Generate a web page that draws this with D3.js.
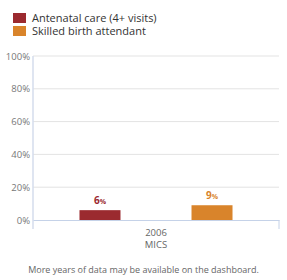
<!DOCTYPE html>
<html>
<head>
<meta charset="utf-8">
<script src="https://cdn.jsdelivr.net/npm/d3@7"></script>
<style>
  body { margin: 0; background: #fff; }
  svg { display: block; font-family: "Open Sans", sans-serif; }
</style>
</head>
<body>
<svg></svg>
<script>
const series = ["Antenatal care (4+ visits)", "Skilled birth attendant"]
const colors = ["#9b2a2f", "#d9842b"]
const categories = ["2006|MICS"]
const values = [[6, 9]]
const yTicks = [0, 20, 40, 60, 80, 100]
const footer = "More years of data may be available on the dashboard."

let width = 287
let height = 280
let plotLeft = 33
let plotRight = 279
let plotTop = 56
let plotBottom = 220

let svg = d3.select("svg").attr("width", width).attr("height", height)

// legend
let legend = svg.append("g")
series.forEach((s, i) => {
    legend.append("rect")
        .attr("x", 13).attr("y", 13 + i * 13)
        .attr("width", 13).attr("height", 10)
        .attr("fill", colors[i])
    legend.append("text")
        .attr("x", 32).attr("y", 22 + i * 13)
        .attr("font-size", 11).attr("fill", "#333")
        .text(s)
})

let yScale = d3.scaleLinear().domain([0, 100]).range([plotBottom, plotTop])
let xScale = d3.scaleBand().domain(categories).range([plotLeft, plotRight])
let inner = d3.scaleBand().domain(series).range([0, xScale.bandwidth()])
    .paddingInner(0.634).paddingOuter(0.415)

// grid
svg.append("g")
    .selectAll("line")
    .data(yTicks.filter(d => d > 0))
    .enter()
    .append("line")
    .attr("x1", plotLeft).attr("x2", plotRight)
    .attr("y1", d => yScale(d)).attr("y2", d => yScale(d))
    .attr("stroke", "#e3e3e3")

// y axis
let yAxis = d3.axisLeft(yScale).tickValues(yTicks).tickFormat(d => d + "%").tickSize(0).tickPadding(3)
let gy = svg.append("g").attr("transform", "translate(" + plotLeft + ",0)").call(yAxis)
gy.select(".domain").remove()
gy.selectAll("text").attr("font-size", 9.5).attr("fill", "#777").attr("font-family", "Open Sans")
svg.append("line").attr("x1", plotLeft).attr("x2", plotLeft).attr("y1", plotTop).attr("y2", plotBottom + 9)
    .attr("stroke", "#d5dcec").attr("stroke-width", 1.5)

// x axis
let xAxis = d3.axisBottom(xScale).tickSize(0).tickFormat("")
let gx = svg.append("g").attr("transform", "translate(0," + plotBottom + ")").call(xAxis)
gx.select(".domain").attr("stroke", "#c5d2e8")
svg.append("line").attr("x1", plotRight).attr("x2", plotRight).attr("y1", plotBottom).attr("y2", plotBottom + 9)
    .attr("stroke", "#c5d2e8")

let catLabels = svg.append("g")
categories.forEach(c => {
    let t = catLabels.append("text")
        .attr("x", xScale(c) + xScale.bandwidth() / 2)
        .attr("y", plotBottom + 16)
        .attr("text-anchor", "middle")
        .attr("font-size", 9.5).attr("fill", "#666")
    c.split("|").forEach((line, j) => {
        t.append("tspan").attr("x", xScale(c) + xScale.bandwidth() / 2).attr("dy", j ? 12 : 0).text(line)
    })
})

// bars
categories.forEach((c, ci) => {
    let g = svg.append("g").attr("transform", "translate(" + xScale(c) + ",0)")
    g.selectAll("rect")
        .data(values[ci])
        .enter()
        .append("rect")
        .attr("x", (d, i) => inner(series[i]))
        .attr("y", d => yScale(d))
        .attr("width", inner.bandwidth())
        .attr("height", d => plotBottom - yScale(d))
        .attr("fill", (d, i) => colors[i])
    let lbl = g.selectAll("text")
        .data(values[ci])
        .enter()
        .append("text")
        .attr("x", (d, i) => inner(series[i]) + inner.bandwidth() / 2)
        .attr("y", d => yScale(d) - 6)
        .attr("text-anchor", "middle")
        .attr("font-weight", "bold")
        .attr("font-size", 10)
        .attr("fill", (d, i) => colors[i])
    lbl.append("tspan").text(d => d)
    lbl.append("tspan").attr("font-size", 7).text("%")
})

svg.append("text")
    .attr("x", width / 2).attr("y", 273)
    .attr("text-anchor", "middle")
    .attr("font-size", 9).attr("fill", "#666")
    .text(footer)
</script>
</body>
</html>
